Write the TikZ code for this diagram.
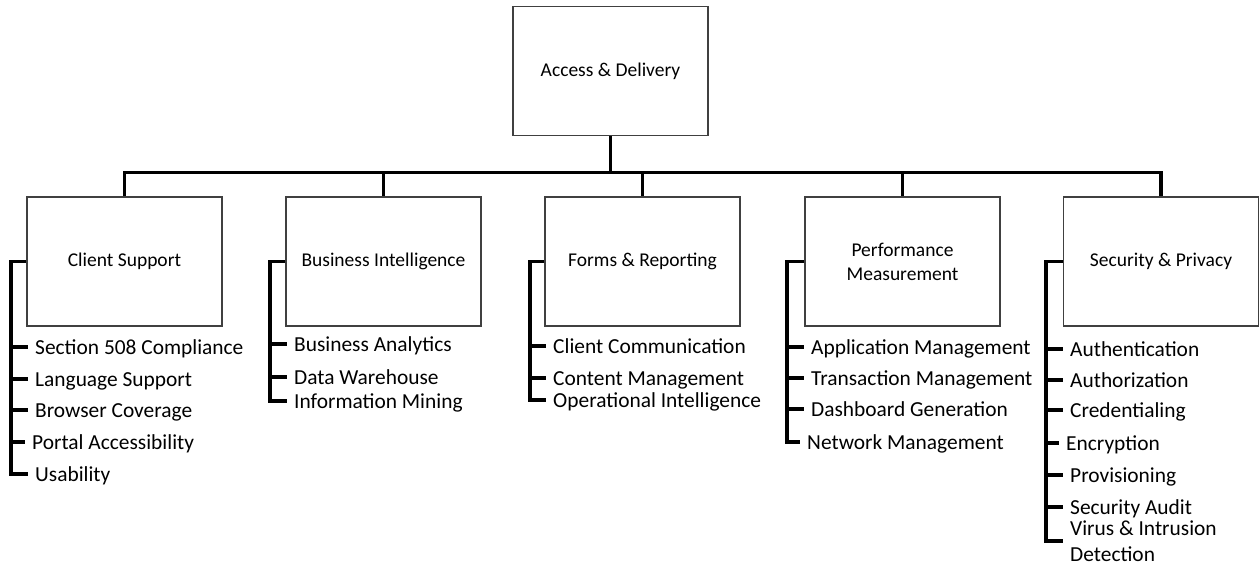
\documentclass[tikz,border=0pt]{standalone}
\usepackage{fontspec}
\setmainfont{Carlito}
\begin{document}
\begin{tikzpicture}[x=1pt,y=-1pt,
  box/.style={draw=black!75, line width=1.3pt, minimum width=195pt, minimum height=129pt,
    align=center, inner sep=0pt, font=\fontsize{19.5}{24}\selectfont},
  item/.style={anchor=west, inner xsep=7pt, inner ysep=0pt, align=left,
    text height=14pt, text depth=0pt, font=\fontsize{21.4}{26}\selectfont},
  item2/.style={anchor=west, inner xsep=7pt, inner ysep=0pt, align=left,
    font=\fontsize{21.4}{26}\selectfont},
  conn/.style={draw=black, line width=3.6pt, line join=miter}]
\useasboundingbox (0,0) rectangle (1260,565);
% boxes
\node[box] (top) at (610.5,71) {Access \& Delivery};
\node[box] (cs) at (124.5,261.5) {Client Support};
\node[box] (bi) at (383.5,261.5) {Business Intelligence};
\node[box] (fr) at (642.5,261.5) {Forms \& Reporting};
\node[box] (pm) at (902.5,261.5) {Performance\\Measurement};
\node[box] (sp) at (1161,261.5) {Security \& Privacy};
% bus
\coordinate (bus) at (610.5,172.5);
\draw[conn] (top.south) -- (bus);
\foreach \c in {cs,bi,fr,pm,sp} \draw[conn] (bus) -| (\c.north);
% Client Support items
\coordinate (csx) at (11,0);
\node[item] (cs1) at (28,347) {Section 508 Compliance};
\node[item] (cs2) at (28,379) {Language Support};
\node[item] (cs3) at (28,410) {Browser Coverage};
\node[item] (cs4) at (25,442) {Portal Accessibility};
\node[item] (cs5) at (28,474) {Usability};
\draw[conn] (cs.west) -- (cs.west -| csx) |- (cs5.west);
\foreach \i in {cs1,cs2,cs3,cs4} \draw[conn] (\i.west -| csx) -- (\i.west);
% Business Intelligence items
\coordinate (bix) at (270,0);
\node[item] (bi1) at (287,344) {Business Analytics};
\node[item] (bi2) at (287,377) {Data Warehouse};
\node[item] (bi3) at (287,401) {Information Mining};
\draw[conn] (bi.west) -- (bi.west -| bix) |- (bi3.west);
\foreach \i in {bi1,bi2} \draw[conn] (\i.west -| bix) -- (\i.west);
% Forms & Reporting items
\coordinate (frx) at (530,0);
\node[item] (fr1) at (546,346) {Client Communication};
\node[item] (fr2) at (546,378) {Content Management};
\node[item] (fr3) at (546,400) {Operational Intelligence};
\draw[conn] (fr.west) -- (fr.west -| frx) |- (fr3.west);
\foreach \i in {fr1,fr2} \draw[conn] (\i.west -| frx) -- (\i.west);
% Performance Measurement items
\coordinate (pmx) at (787,0);
\node[item] (pm1) at (804,347) {Application Management};
\node[item] (pm2) at (804,378) {Transaction Management};
\node[item] (pm3) at (804,409) {Dashboard Generation};
\node[item] (pm4) at (800,442) {Network Management};
\draw[conn] (pm.west) -- (pm.west -| pmx) |- (pm4.west);
\foreach \i in {pm1,pm2,pm3} \draw[conn] (\i.west -| pmx) -- (\i.west);
% Security & Privacy items
\coordinate (spx) at (1046,0);
\node[item] (sp1) at (1063,349) {Authentication};
\node[item] (sp2) at (1063,380) {Authorization};
\node[item] (sp3) at (1063,410) {Credentialing};
\node[item] (sp4) at (1059,443) {Encryption};
\node[item] (sp5) at (1063,475) {Provisioning};
\node[item] (sp6) at (1063,507) {Security Audit};
\node[item2] (sp7) at (1063,541) {Virus \& Intrusion\\Detection};
\draw[conn] (sp.west) -- (sp.west -| spx) |- (sp7.west);
\foreach \i in {sp1,sp2,sp3,sp4,sp5,sp6} \draw[conn] (\i.west -| spx) -- (\i.west);
\end{tikzpicture}
\end{document}
